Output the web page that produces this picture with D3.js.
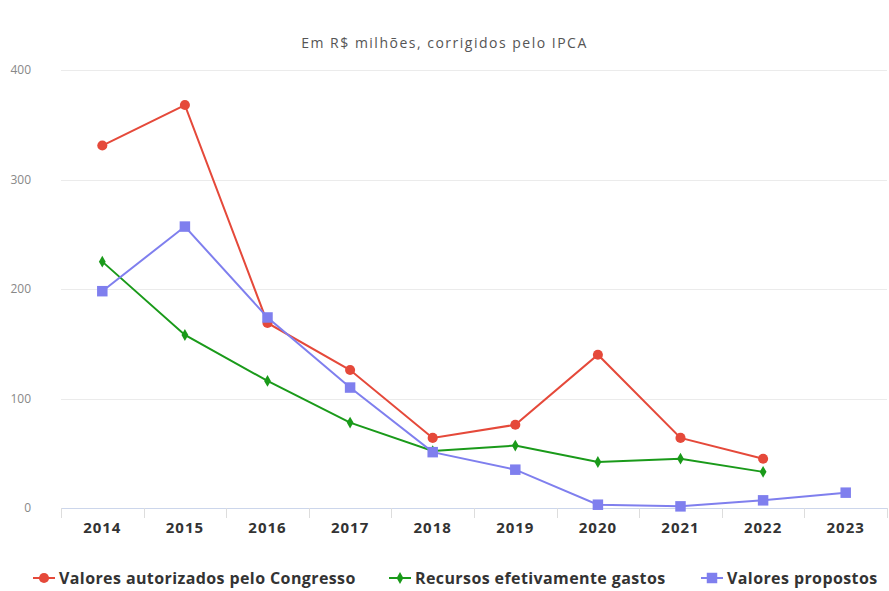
<!DOCTYPE html>
<meta charset="utf-8">
<title>Chart</title>
<style>
body { margin: 0; background: #fff; font-family: "Open Sans", Arial, sans-serif; }
.grid line { stroke: #ebebeb; stroke-width: 1; shape-rendering: crispEdges; }
.grid path { display: none; }
</style>
<body>
<script src="https://d3js.org/d3.v7.min.js"></script>
<script>
// data
var years = ["2014","2015","2016","2017","2018","2019","2020","2021","2022","2023"];
var autorizados = [331, 368, 169, 126, 64, 76, 140, 64, 45, null];
var gastos = [225, 158, 116, 78, 52, 57, 42, 45, 33, null];
var propostos = [198, 257, 174, 110, 51, 35, 3, 1.5, 7, 14];
var yTicks = [0, 100, 200, 300, 400];
var seriesNames = ["Valores autorizados pelo Congresso", "Recursos efetivamente gastos", "Valores propostos"];

var W = 889, H = 591;
var margin = {top: 70, right: 2, bottom: 83, left: 61};
var width = W - margin.left - margin.right,
    height = H - margin.top - margin.bottom;

var svg = d3.select("body").append("svg")
    .attr("width", W).attr("height", H);

svg.append("text")
    .attr("x", W / 2).attr("y", 48)
    .attr("text-anchor", "middle")
    .style("font-size", "14px").style("letter-spacing", "1.5px").style("fill", "#555")
    .text("Em R$ milhões, corrigidos pelo IPCA");

var g = svg.append("g").attr("transform", "translate(" + margin.left + "," + margin.top + ")");

var x = d3.scaleBand().domain(years).range([0, width]);
var y = d3.scaleLinear().domain([0, 400]).range([height, 0]);

// gridlines
g.append("g").attr("class", "grid")
  .call(d3.axisLeft(y).tickValues(yTicks).tickSize(-width).tickFormat(""));

// y labels
g.selectAll(".ylab").data(yTicks).enter().append("text")
    .attr("class", "ylab")
    .attr("x", -30).attr("y", function(d) { return y(d) + 4; })
    .attr("text-anchor", "end")
    .style("font-size", "12px").style("fill", "#888")
    .text(function(d) { return d; });

// x axis line
g.append("line")
    .attr("x1", 0).attr("x2", width)
    .attr("y1", y(0) + 0.5).attr("y2", y(0) + 0.5)
    .attr("stroke", "#ccd6eb");

// band ticks
var bounds = years.map(function(d) { return x(d); }).concat([width]);
g.selectAll(".btick").data(bounds).enter().append("line")
    .attr("x1", function(d) { return Math.round(d) + 0.5; })
    .attr("x2", function(d) { return Math.round(d) + 0.5; })
    .attr("y1", y(0)).attr("y2", y(0) + 10)
    .attr("stroke", "#ddd");

// x labels
g.selectAll(".xlab").data(years).enter().append("text")
    .attr("x", function(d) { return x(d) + x.bandwidth() / 2; })
    .attr("y", y(0) + 25)
    .attr("text-anchor", "middle")
    .style("font-size", "15px").style("letter-spacing", "1px")
    .style("font-weight", "bold").style("fill", "#333")
    .text(function(d) { return d; });

var series = [
  {name: seriesNames[0], values: autorizados, color: "#e5493a", shape: d3.symbolCircle, size: 80},
  {name: seriesNames[1], values: gastos, color: "#1a9a1a", shape: d3.symbolDiamond, size: 40},
  {name: seriesNames[2], values: propostos, color: "#7f7fee", shape: d3.symbolSquare, size: 110}
];

var line = d3.line()
    .defined(function(d) { return d.v != null; })
    .x(function(d) { return x(d.year) + x.bandwidth() / 2; })
    .y(function(d) { return y(d.v); });

series.forEach(function(s) {
  var pts = years.map(function(yr, i) { return {year: yr, v: s.values[i]}; });
  g.append("path").datum(pts)
    .attr("d", line)
    .attr("fill", "none")
    .attr("stroke", s.color)
    .attr("stroke-width", 2);
  g.selectAll(null).data(pts.filter(function(d) { return d.v != null; })).enter()
    .append("path")
    .attr("d", d3.symbol().type(s.shape).size(s.size))
    .attr("transform", function(d) {
      return "translate(" + (x(d.year) + x.bandwidth() / 2) + "," + y(d.v) + ")";
    })
    .attr("fill", s.color);
});

// legend
var legendX = [33, 389, 701];
var lg = svg.append("g").attr("transform", "translate(0,578)");
series.forEach(function(s, i) {
  var it = lg.append("g").attr("transform", "translate(" + legendX[i] + ",0)");
  it.append("line").attr("x1", 0).attr("x2", 22).attr("y1", 0).attr("y2", 0)
    .attr("stroke", s.color).attr("stroke-width", 2);
  it.append("path")
    .attr("d", d3.symbol().type(s.shape).size(s.size))
    .attr("transform", "translate(11,0)")
    .attr("fill", s.color);
  it.append("text").attr("x", 26).attr("y", 5.5)
    .style("font-size", "16px").style("letter-spacing", "0.4px")
    .style("font-weight", "bold").style("fill", "#333")
    .text(s.name);
});
</script>
</body>
